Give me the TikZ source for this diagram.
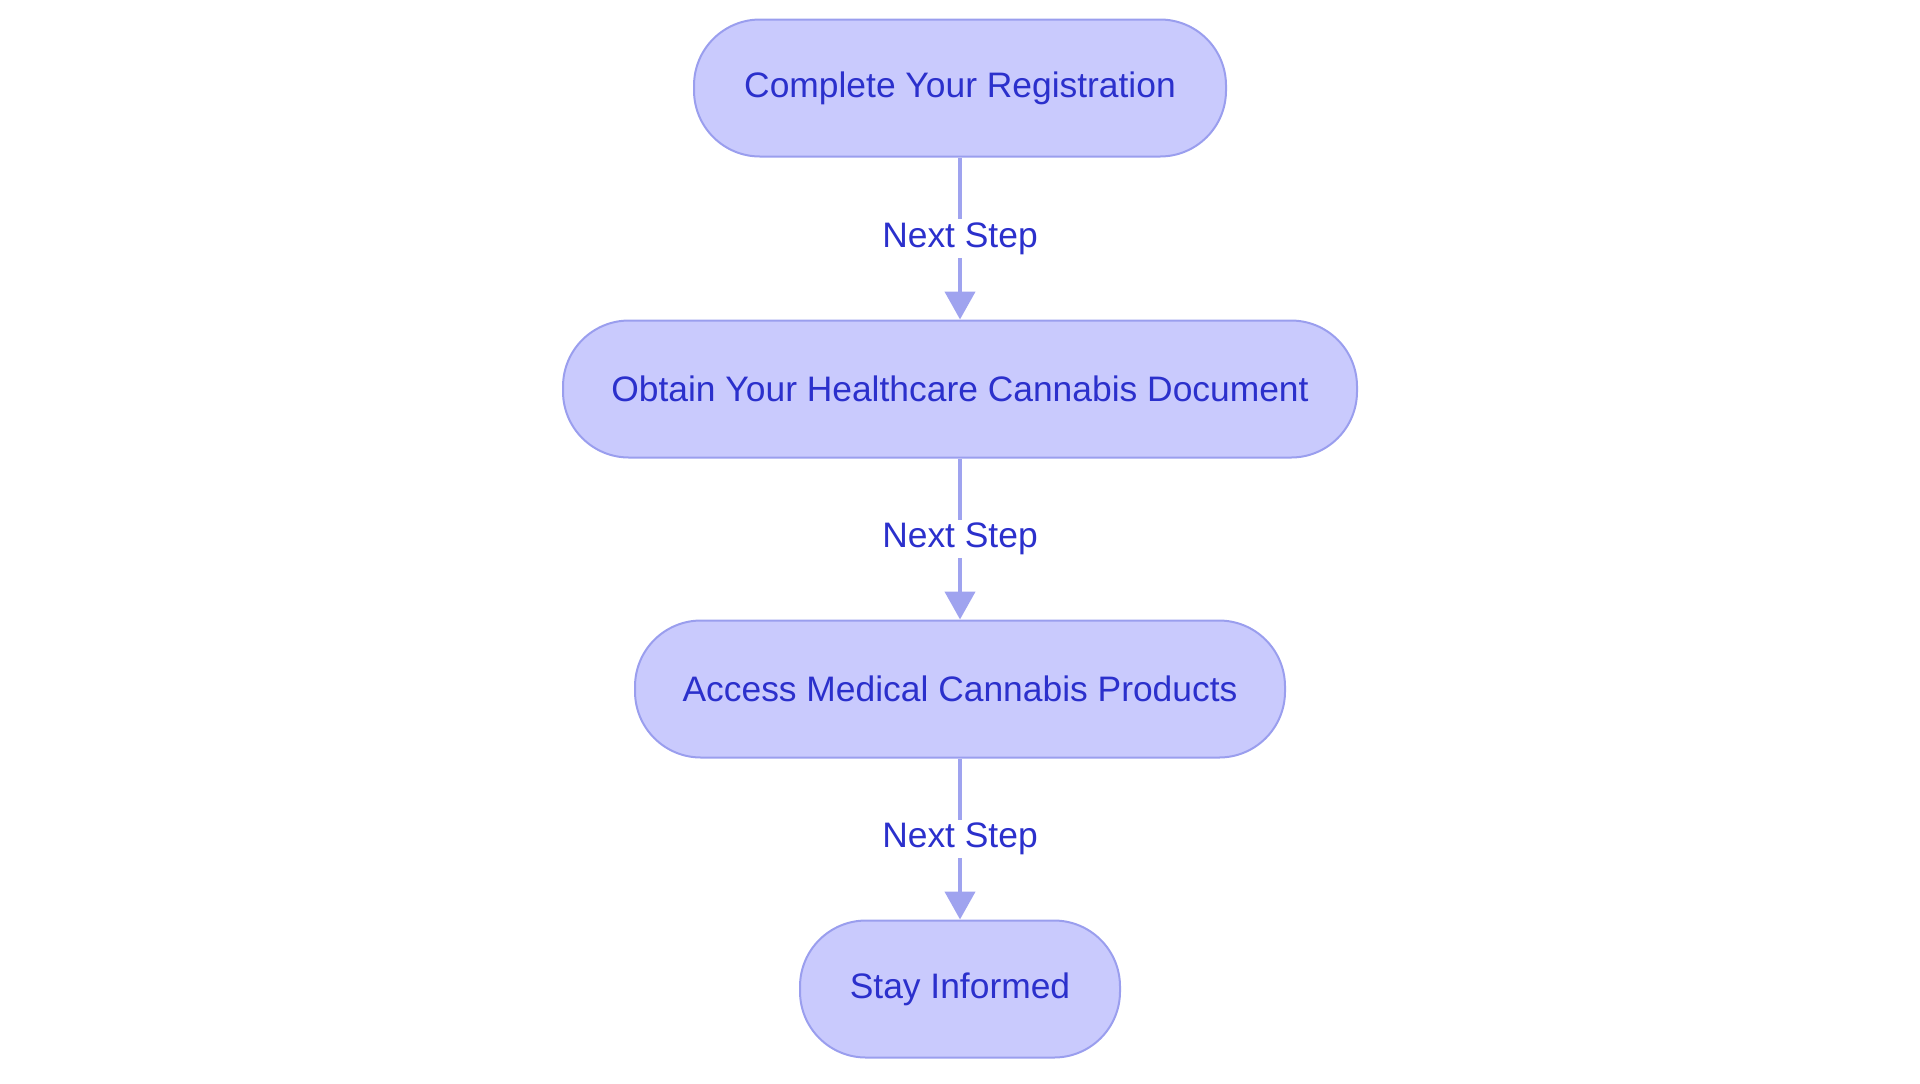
\documentclass[tikz,border=0pt]{standalone}
\usepackage{fontspec}
\setmainfont{Liberation Sans}
\usetikzlibrary{arrows.meta}
\definecolor{stepfill}{HTML}{C9CAFD}
\definecolor{stepline}{HTML}{9A9EEE}
\definecolor{steptext}{HTML}{2B30CC}
\begin{document}
\begin{tikzpicture}[x=1pt,y=1pt,
  stepbox/.style={rectangle,rounded corners=33pt,draw=stepline,fill=stepfill,line width=1pt,
    minimum height=68.5pt,text=steptext,font=\fontsize{17.7}{20}\selectfont},
  edge/.style={draw=stepline!95!white,line width=2.2pt,-{Triangle[length=14pt,width=15pt]}},
  lbl/.style={fill=white,text=steptext,inner sep=1.5pt,font=\fontsize{17.7}{20}\selectfont}]
  \useasboundingbox (0,0) rectangle (960,-541.5);
  \node[stepbox,minimum width=266pt] (reg) at (480,-44) {Complete Your Registration};
  \node[stepbox,minimum width=397pt] (doc) at (480,-194.5) {Obtain Your Healthcare Cannabis Document};
  \node[stepbox,minimum width=325pt] (acc) at (480,-344.5) {Access Medical Cannabis Products};
  \node[stepbox,minimum width=160pt] (inf) at (480,-494.5) {Stay Informed};
  \draw[edge] (reg) -- node[lbl] {Next Step} (doc);
  \draw[edge] (doc) -- node[lbl] {Next Step} (acc);
  \draw[edge] (acc) -- node[lbl] {Next Step} (inf);
\end{tikzpicture}
\end{document}
